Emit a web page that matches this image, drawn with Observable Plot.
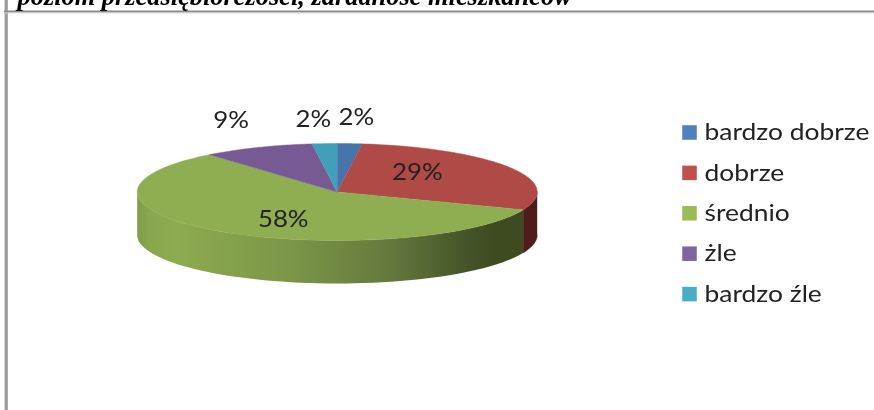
<!DOCTYPE html>
<html lang="pl">
<head>
<meta charset="utf-8">
<script src="https://cdn.jsdelivr.net/npm/d3@7"></script>
<script src="https://cdn.jsdelivr.net/npm/@observablehq/plot@0.6"></script>
<style>
html,body{margin:0;padding:0;background:#fff;overflow:hidden}
#chart{width:874px;height:410px;filter:blur(0.45px)}
svg{display:block}
</style>
</head>
<body>
<div id="chart"></div>
<script>
const title = "poziom przedsiębiorczości, zaradność mieszkańców";
const categories = ["bardzo dobrze", "dobrze", "średnio", "żle", "bardzo źle"];
const values = [2, 29, 58, 9, 2];
const labels = ["2%", "29%", "58%", "9%", "2%"];
const faceColors = ["#4674ab", "#b04a47", "#8fad51", "#775a94", "#419fb9"];
const legendColors = ["#4f81bd", "#c0504d", "#9bbb59", "#8064a2", "#4bacc6"];

// layout (pixels)
const W = 874, H = 410, CX = 336.7, CY = 191.5, RX = 200, RY = 48.5, DEPTH = 43;
const X = (px) => (px - CX) / RX;
const Y = (py) => (CY - py) / RY;
const depth = DEPTH / RY;
const ink = "#222222";
// label nudges relative to each slice's mid-angle anchor on the rim
const labelNudge = [[6.5, -26], [-92, 5], [63.6, -11.7], [-26.6, -27], [-11.4, -24]];

const total = d3.sum(values);
const slices = [];
values.reduce((acc, v, i) => {
  slices.push({i, name: categories[i], a0: acc / total * 2 * Math.PI, a1: (acc + v) / total * 2 * Math.PI});
  return acc + v;
}, 0);
const rimX = (a) => Math.sin(a);
const rimY = (a) => Math.cos(a);
const arc = (a0, a1) => d3.range(0, 61).map((k) => a0 + (a1 - a0) * k / 60);

const topFace = slices.flatMap((s) => {
  const pts = [{x: 0, y: 0}, ...arc(s.a0, s.a1).map((a) => ({x: rimX(a), y: rimY(a)}))];
  return pts.map((p) => ({...p, id: s.i, fill: faceColors[s.i]}));
});

const FRONT0 = Math.PI / 2, FRONT1 = 3 * Math.PI / 2;
const side = (s) => {
  const a0 = Math.max(s.a0, FRONT0), a1 = Math.min(s.a1, FRONT1);
  if (a1 <= a0) return [];
  const rim = arc(a0, a1);
  return [
    ...rim.map((a) => ({x: rimX(a), y: rimY(a)})),
    ...rim.slice().reverse().map((a) => ({x: rimX(a), y: rimY(a) - depth}))
  ];
};
const redSide = side(slices[1]);
const greenSide = side(slices[2]);

const labelData = slices.map((s, i) => {
  const m = (s.a0 + s.a1) / 2;
  return {x: rimX(m), y: rimY(m), label: labels[i], dx: labelNudge[i][0], dy: labelNudge[i][1]};
});

const fontLato = "Lato, Carlito, sans-serif";
const legendY = (i) => Y(132 + i * 40.4);

const chart = Plot.plot({
  width: W, height: H, margin: 0,
  style: {background: "#fff", overflow: "visible"},
  x: {axis: null, domain: [X(0), X(W)], range: [0, W]},
  y: {axis: null, domain: [Y(0), Y(H)], range: [0, H]},
  color: {type: "identity"},
  marks: [
    () => {
      const ns = "http://www.w3.org/2000/svg";
      const defs = document.createElementNS(ns, "defs");
      const g = document.createElementNS(ns, "linearGradient");
      g.setAttribute("id", "greenSide");
      g.setAttribute("x1", "0"); g.setAttribute("x2", "1"); g.setAttribute("y1", "0"); g.setAttribute("y2", "0");
      [[0, "#7f9c48"], [0.03, "#88a64c"], [0.1, "#8dab4f"], [0.4, "#7b9647"], [0.65, "#647a3d"], [0.85, "#46552a"], [0.93, "#3e4a20"], [1, "#3e4a20"]]
        .forEach(([o, c]) => {
          const st = document.createElementNS(ns, "stop");
          st.setAttribute("offset", o); st.setAttribute("stop-color", c);
          g.appendChild(st);
        });
      defs.appendChild(g);
      const svgEl = document.createElementNS(ns, "g");
      svgEl.appendChild(defs);
      return svgEl;
    },
    // chart frame
    Plot.ruleX([X(5.7)], {stroke: "#999", strokeWidth: 3.2}),
    Plot.ruleY([Y(11)], {x1: X(4), x2: X(W), stroke: "#8a8a8a", strokeWidth: 2}),
    Plot.ruleY([Y(12.4)], {x1: X(4), x2: X(W), stroke: "#d0d0d0", strokeWidth: 1}),
    // clipped heading
    Plot.text([title], {
      x: X(17), y: Y(4), text: (d) => d, textAnchor: "start", lineAnchor: "bottom", dy: 0,
      fontFamily: "Liberation Serif", fontWeight: "bold", fontStyle: "italic", fontSize: 26.4, fill: "#000"
    }),
    // pie sides
    Plot.line(redSide, {x: "x", y: "y", fill: "#4f1c1a", stroke: "#4f1c1a", strokeWidth: 0.5}),
    Plot.line(greenSide, {x: "x", y: "y", fill: "url(#greenSide)", stroke: "none"}),
    // pie top
    Plot.line(topFace, {x: "x", y: "y", z: "id", fill: "fill", stroke: "fill", strokeWidth: 0.5}),
    // value labels
    ...labelData.map((d) => Plot.text([d], {
      x: "x", y: "y", text: "label", dx: d.dx, dy: d.dy,
      fontFamily: fontLato, fontSize: 23.5, fill: ink
    })),
    // legend
    Plot.dot(categories, {
      x: () => X(689), y: (d, i) => legendY(i), symbol: "square", r: 8.2,
      fill: (d, i) => legendColors[i]
    }),
    Plot.text(categories, {
      x: () => X(704), y: (d, i) => legendY(i), text: (d) => d, textAnchor: "start",
      fontFamily: fontLato, fontSize: 24, fill: ink
    })
  ]
});
document.getElementById("chart").appendChild(chart);
// the reference's sans text is stretched about 10% horizontally
d3.select(chart).selectAll("text").each(function () {
  if (this.textContent === title) return;
  this.setAttribute("textLength", this.getComputedTextLength() * 1.1);
  this.setAttribute("lengthAdjust", "spacingAndGlyphs");
});
</script>
</body>
</html>
